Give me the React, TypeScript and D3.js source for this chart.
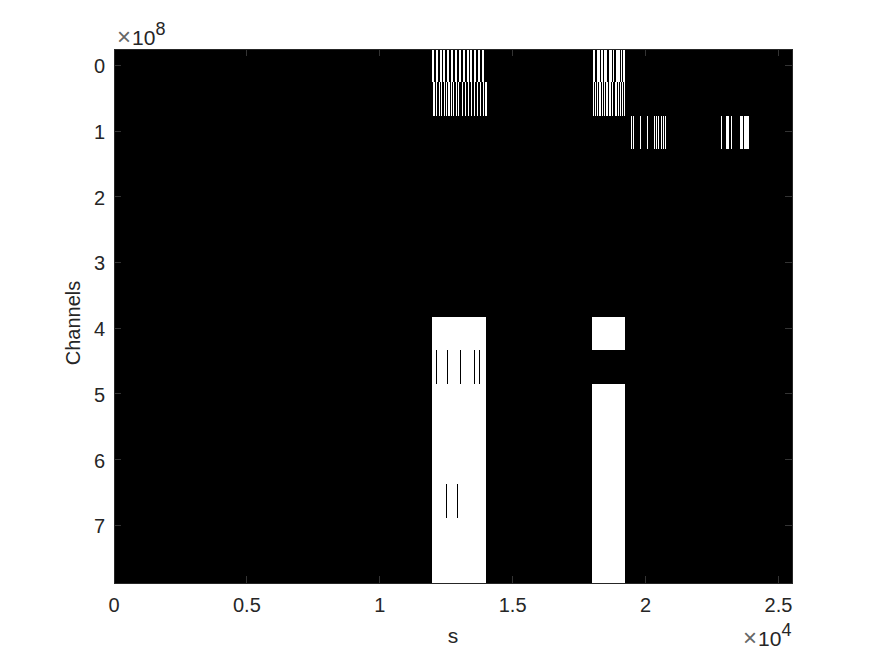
import React from "react";
import * as d3 from "d3";

const width = 875;
const height = 656;
const xTicks = [0, 5000, 10000, 15000, 20000, 25000];
const xTickLabels = ["0", "0.5", "1", "1.5", "2", "2.5"];
const yTicks = [0, 1e8, 2e8, 3e8, 4e8, 5e8, 6e8, 7e8];
const yTickLabels = ["0", "1", "2", "3", "4", "5", "6", "7"];

type Span = [number, number];
const row0: Span[] = [
  [11960, 12035], [12105, 12180], [12250, 12325], [12395, 12470], [12540, 12615], [12685, 12760],
  [12830, 12905], [12975, 13050], [13120, 13195], [13265, 13340], [13410, 13485], [13555, 13630],
  [13700, 13775], [13845, 13916],
  [18015, 18091], [18166, 18279], [18316, 18392], [18429, 18542], [18617, 18730], [18768, 18806],
  [18880, 19031], [19069, 19106], [19144, 19219],
];
const row1: Span[] = [
  [11998, 12073], [12110, 12166], [12223, 12261], [12298, 12336], [12411, 12449], [12487, 12524],
  [12562, 12637], [12675, 12712], [12750, 12787], [12863, 12900], [12938, 12976], [13089, 13126],
  [13201, 13239], [13314, 13352], [13427, 13465], [13540, 13578], [13653, 13690], [13766, 13803],
  [13878, 13916], [13953, 14029],
  [18015, 18053], [18091, 18128], [18166, 18204], [18241, 18316], [18354, 18392], [18429, 18467],
  [18505, 18580], [18617, 18693], [18730, 18768], [18843, 18918], [18956, 18993], [19031, 19069],
  [19106, 19144], [19182, 19219],
];
const row2: Span[] = [
  [19445, 19482], [19520, 19558], [19783, 19821], [20047, 20085], [20310, 20348], [20385, 20423],
  [20461, 20498], [20573, 20611], [20649, 20686], [20724, 20762],
  [22830, 22868], [23018, 23131], [23206, 23244], [23545, 23658], [23695, 23883],
];
const row8: Span[] = [[11960, 13991], [17978, 19219]];
const row9: Span[] = [
  [11960, 12110], [12148, 12524], [12562, 13013], [13051, 13540], [13578, 13728], [13766, 13991],
];
const row10: Span[] = [[11960, 13991], [17978, 19219]];
const row11: Span[] = [[11960, 13991], [17978, 19219]];
const row12: Span[] = [[11960, 13991], [17978, 19219]];
const row13: Span[] = [
  [11960, 12487], [12524, 12900], [12938, 13991], [17978, 19219],
];
const row14: Span[] = [[11960, 13991], [17978, 19219]];
const row15: Span[] = [[11960, 13991], [17978, 19219]];

const rows: [number, Span[]][] = [
  [0, row0], [1, row1], [2, row2], [8, row8], [9, row9], [10, row10],
  [11, row11], [12, row12], [13, row13], [14, row14], [15, row15],
];

const rowCount = 16;
const left = 114;
const right = 792;
const top = 49;
const bottom = 583;

const x = d3.scaleLinear().domain([0, 25510]).range([left, right]);
const y = d3.scaleLinear().domain([-0.25e8, 7.88e8]).range([top, bottom]);
const rowBand = d3.scaleLinear().domain([0, rowCount]).range([48.6, 584.6]);

const textColor = "#262626";
const font = "'Liberation Sans', Arial, sans-serif";

export default function App() {
  return (
    <svg
      width={width}
      height={height}
      style={{ position: "fixed", left: 0, top: 0, background: "#fff" }}
      fontFamily={font}
      fill={textColor}
    >
      <defs>
        <clipPath id="plot">
          <rect x={left} y={top} width={right - left} height={bottom - top} />
        </clipPath>
      </defs>
      <rect x={left} y={top} width={right - left} height={bottom - top} fill="#000" />
      <g shapeRendering="crispEdges">
        <g clipPath="url(#plot)">
          {rows.flatMap(([r, spans]) =>
            spans.map(([a, b], i) => (
              <rect
                key={`${r}-${i}`}
                x={Math.round(x(a))}
                width={Math.round(x(b)) - Math.round(x(a))}
                y={Math.round(rowBand(r))}
                height={Math.round(rowBand(r + 1)) - Math.round(rowBand(r))}
                fill="#fff"
              />
            ))
          )}
        </g>
        {xTicks.map((t) => (
          <g key={t}>
            <line x1={x(t)} x2={x(t)} y1={bottom} y2={bottom - 7} stroke="#333" />
            <line x1={x(t)} x2={x(t)} y1={top} y2={top + 7} stroke="#333" />
          </g>
        ))}
        {yTicks.map((t) => (
          <g key={t}>
            <line x1={left} x2={left + 7} y1={y(t)} y2={y(t)} stroke="#333" />
            <line x1={right} x2={right - 7} y1={y(t)} y2={y(t)} stroke="#333" />
          </g>
        ))}
        <rect x={left} y={top} width={right - left} height={bottom - top} fill="none" stroke="#262626" />
      </g>
      {xTicks.map((t, i) => (
        <text key={t} x={x(t)} y={612} textAnchor="middle" fontSize={20}>
          {xTickLabels[i]}
        </text>
      ))}
      {yTicks.map((t, i) => (
        <text key={t} x={105} y={y(t) + 8} textAnchor="end" fontSize={20}>
          {yTickLabels[i]}
        </text>
      ))}
      <text x={453} y={643} textAnchor="middle" fontSize={21}>s</text>
      <text
        transform={`translate(80,323) rotate(-90)`}
        textAnchor="middle"
        fontSize={20}
      >
        Channels
      </text>
      <text x={117} y={45} fontSize={21}>
        <tspan fill="#666" fontSize={24}>×</tspan>
        <tspan dx={1}>10</tspan>
        <tspan dy={-10} fontSize={18}>8</tspan>
      </text>
      <text x={743} y={646} fontSize={21}>
        <tspan fill="#666" fontSize={24}>×</tspan>
        <tspan dx={1}>10</tspan>
        <tspan dy={-10} fontSize={18}>4</tspan>
      </text>
    </svg>
  );
}
